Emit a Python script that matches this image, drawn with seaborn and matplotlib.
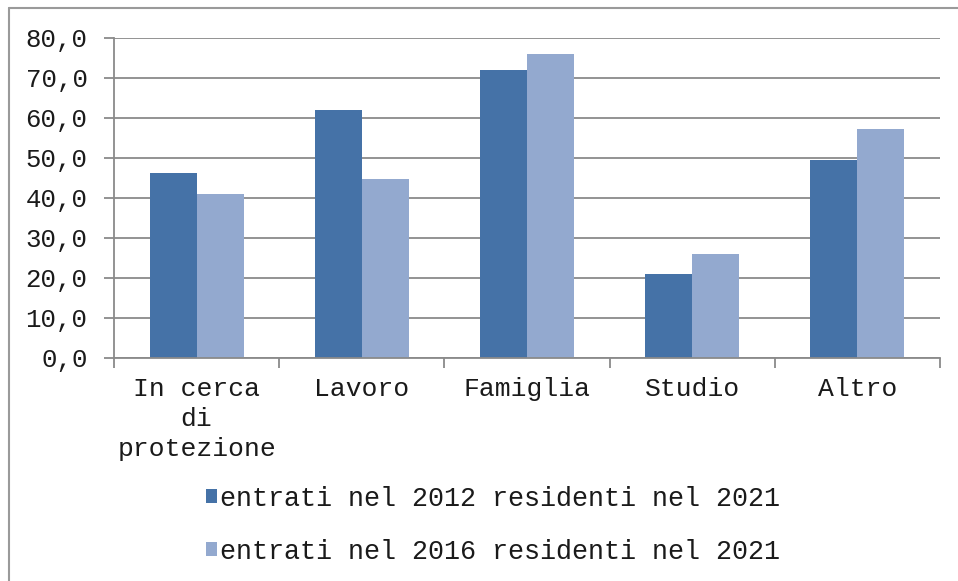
import matplotlib
matplotlib.use("Agg")
import matplotlib.pyplot as plt
import seaborn as sns
import pandas as pd
from matplotlib.patches import Patch
from matplotlib.lines import Line2D
from matplotlib.ticker import FixedLocator, FuncFormatter

categories = ["In cerca\ndi\nprotezione", "Lavoro", "Famiglia", "Studio", "Altro"]
series_names = ["entrati nel 2012 residenti nel 2021", "entrati nel 2016 residenti nel 2021"]
values_2012 = [46.2, 62.0, 72.0, 21.1, 49.5]
values_2016 = [41.1, 44.7, 76.0, 25.9, 57.2]
colors = ["#4572A7", "#93A9CF"]

df = pd.DataFrame({
    "cat": categories * 2,
    "serie": [series_names[0]] * 5 + [series_names[1]] * 5,
    "val": values_2012 + values_2016,
})

sns.set_theme(style="white")
plt.rcParams["font.family"] = ["Liberation Mono", "DejaVu Sans Mono"]

W, H = 958, 581
fig = plt.figure(figsize=(W / 100, H / 100), dpi=100)
ax = fig.add_axes([114 / W, 1 - 358 / H, (940 - 114) / W, (358 - 38) / H])

sns.barplot(data=df, x="cat", y="val", hue="serie", palette=colors, order=categories,
            hue_order=series_names, width=0.57, ax=ax, legend=False, saturation=1,
            edgecolor="none", linewidth=0)

ax.set_xlim(-0.5, 4.5)
ax.set_ylim(0, 80)
ax.set_xlabel("")
ax.set_ylabel("")

yt = list(range(0, 81, 10))
ax.set_yticks(yt)
ax.yaxis.set_major_formatter(FuncFormatter(lambda v, p: f"{v:.1f}".replace(".", ",")))
ax.grid(axis="y", color="#8a8a8a", linewidth=1.3)
ax.set_axisbelow(True)

for s in ["top", "right"]:
    ax.spines[s].set_visible(False)
ax.spines["left"].set_color("#8a8a8a")
ax.spines["bottom"].set_color("#8a8a8a")
ax.spines["left"].set_linewidth(1.3)
ax.spines["bottom"].set_linewidth(1.3)

ax.tick_params(axis="y", which="major", left=True, length=7, width=1.3, color="#8a8a8a",
               pad=12, labelsize=18.5, labelcolor="#1a1a1a")
ax.set_xticks(range(len(categories)))
ax.set_xticklabels(categories, fontsize=19, color="#1a1a1a", linespacing=1.3)
ax.tick_params(axis="x", which="major", bottom=False, length=0, pad=14)
ax.xaxis.set_minor_locator(FixedLocator([-0.5, 0.5, 1.5, 2.5, 3.5, 4.5]))
ax.tick_params(axis="x", which="minor", bottom=True, length=7, width=1.3, color="#8a8a8a")

handles = [Patch(facecolor=c, edgecolor="none") for c in colors]
fig.legend(handles, series_names, loc="upper left", bbox_to_anchor=(206 / W, 1 - 486 / H),
           frameon=False, fontsize=19.3, handlelength=0.42, handleheight=0.42,
           handletextpad=0.12, labelspacing=1.0, borderpad=0, borderaxespad=0,
           labelcolor="#1a1a1a")

# outer frame (left and top)
fig.add_artist(Line2D([9 / W, 9 / W], [0, 1 - 8 / H], transform=fig.transFigure,
                      color="#9a9a9a", linewidth=1.5))
fig.add_artist(Line2D([9 / W, 1], [1 - 8 / H, 1 - 8 / H], transform=fig.transFigure,
                      color="#9a9a9a", linewidth=1.5))

fig.savefig("out.png", dpi=100)
